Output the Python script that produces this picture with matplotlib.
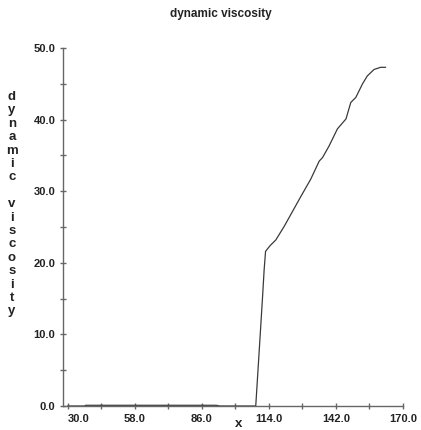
import numpy as np
import matplotlib.pyplot as plt

plt.rcParams['font.family'] = ['Liberation Sans', 'DejaVu Sans']

# viscosity profile along x
x = [30.0, 37.0, 37.5, 92.0, 93.5, 108.5, 110.0, 111.3, 112.0, 112.6,
     114.5, 116.9, 120.4, 123.9, 127.4, 131.5, 135.0, 136.4, 139.1, 142.6,
     146.2, 148.2, 150.3, 153.1, 155.1, 157.9, 160.6, 162.7]
mu = [0.0, 0.0, 0.1, 0.1, 0.0, 0.0, 8.0, 15.0, 19.0, 21.6,
      22.4, 23.2, 25.1, 27.2, 29.3, 31.7, 34.2, 34.7, 36.3, 38.7,
      40.1, 42.4, 43.1, 45.0, 46.1, 47.0, 47.3, 47.3]

xticks = [30.0, 58.0, 86.0, 114.0, 142.0, 170.0]
xminor = [44.0, 72.0, 100.0, 128.0, 156.0]
yticks = [0.0, 10.0, 20.0, 30.0, 40.0, 50.0]
yminor = [5.0, 15.0, 25.0, 35.0, 45.0]

fig = plt.figure(figsize=(4.21, 4.30), dpi=100)
ax = fig.add_axes([63/421, 24/430, 340/421, 358/430])

ax.plot(x, mu, color='#3a3a3a', lw=0.9)

ax.set_xlim(28.0, 170.0)
ax.set_ylim(0.0, 50.0)
ax.set_xticks(xticks)
ax.set_xticks(xminor, minor=True)
ax.set_yticks(yticks)
ax.set_yticks(yminor, minor=True)
ax.set_xticklabels(['%.1f' % t for t in xticks])
ax.set_yticklabels(['%.1f' % t for t in yticks])

for s in ['top', 'right']:
    ax.spines[s].set_visible(False)
for s in ['left', 'bottom']:
    ax.spines[s].set_color('#666666')
    ax.spines[s].set_linewidth(1.0)

ax.tick_params(which='both', direction='inout', length=5, width=1.0,
               color='#666666', labelsize=8, pad=3)
for lab in ax.get_xticklabels() + ax.get_yticklabels():
    lab.set_fontweight('bold')
    lab.set_color('#222222')
ax.get_xticklabels()[0].set_horizontalalignment('left')

fig.text(221/421, 1 - 14/430, 'dynamic viscosity', ha='center', va='center',
         fontsize=8.5, fontweight='bold', color='#222222')
fig.text(239/421, 1 - 424/430, 'x', ha='center', va='center',
         fontsize=9.5, fontweight='bold', color='#222222')

# vertical stacked axis name
ylab = 'dynamic viscosity'
for i, ch in enumerate(ylab):
    fig.text(12/421, 1 - (97 + i * 13.4)/430, ch, ha='center', va='center',
             fontsize=9.5, fontweight='bold', color='#222222')

fig.savefig('out.png', dpi=100)
